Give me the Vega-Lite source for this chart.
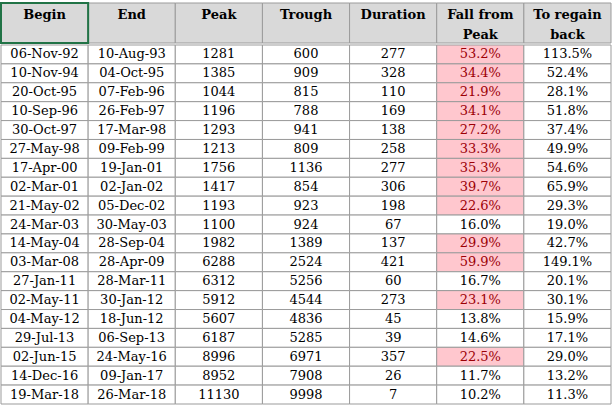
{
  "$schema": "https://vega.github.io/schema/vega-lite/v6.json",
  "background": "white",
  "padding": {"left": 0, "top": 2, "right": 0, "bottom": 0},
  "spacing": 0,
  "config": {"view": {"stroke": null}, "concat": {"spacing": 0}},
  "datasets": {
    "rows": [
      {"Begin": "06-Nov-92", "End": "10-Aug-93", "Peak": 1281, "Trough": 600, "Duration": 277, "Fall": 0.532, "Regain": 1.135},
      {"Begin": "10-Nov-94", "End": "04-Oct-95", "Peak": 1385, "Trough": 909, "Duration": 328, "Fall": 0.344, "Regain": 0.524},
      {"Begin": "20-Oct-95", "End": "07-Feb-96", "Peak": 1044, "Trough": 815, "Duration": 110, "Fall": 0.219, "Regain": 0.281},
      {"Begin": "10-Sep-96", "End": "26-Feb-97", "Peak": 1196, "Trough": 788, "Duration": 169, "Fall": 0.341, "Regain": 0.518},
      {"Begin": "30-Oct-97", "End": "17-Mar-98", "Peak": 1293, "Trough": 941, "Duration": 138, "Fall": 0.272, "Regain": 0.374},
      {"Begin": "27-May-98", "End": "09-Feb-99", "Peak": 1213, "Trough": 809, "Duration": 258, "Fall": 0.333, "Regain": 0.499},
      {"Begin": "17-Apr-00", "End": "19-Jan-01", "Peak": 1756, "Trough": 1136, "Duration": 277, "Fall": 0.353, "Regain": 0.546},
      {"Begin": "02-Mar-01", "End": "02-Jan-02", "Peak": 1417, "Trough": 854, "Duration": 306, "Fall": 0.397, "Regain": 0.659},
      {"Begin": "21-May-02", "End": "05-Dec-02", "Peak": 1193, "Trough": 923, "Duration": 198, "Fall": 0.226, "Regain": 0.293},
      {"Begin": "24-Mar-03", "End": "30-May-03", "Peak": 1100, "Trough": 924, "Duration": 67, "Fall": 0.160, "Regain": 0.190},
      {"Begin": "14-May-04", "End": "28-Sep-04", "Peak": 1982, "Trough": 1389, "Duration": 137, "Fall": 0.299, "Regain": 0.427},
      {"Begin": "03-Mar-08", "End": "28-Apr-09", "Peak": 6288, "Trough": 2524, "Duration": 421, "Fall": 0.599, "Regain": 1.491},
      {"Begin": "27-Jan-11", "End": "28-Mar-11", "Peak": 6312, "Trough": 5256, "Duration": 60, "Fall": 0.167, "Regain": 0.201},
      {"Begin": "02-May-11", "End": "30-Jan-12", "Peak": 5912, "Trough": 4544, "Duration": 273, "Fall": 0.231, "Regain": 0.301},
      {"Begin": "04-May-12", "End": "18-Jun-12", "Peak": 5607, "Trough": 4836, "Duration": 45, "Fall": 0.138, "Regain": 0.159},
      {"Begin": "29-Jul-13", "End": "06-Sep-13", "Peak": 6187, "Trough": 5285, "Duration": 39, "Fall": 0.146, "Regain": 0.171},
      {"Begin": "02-Jun-15", "End": "24-May-16", "Peak": 8996, "Trough": 6971, "Duration": 357, "Fall": 0.225, "Regain": 0.290},
      {"Begin": "14-Dec-16", "End": "09-Jan-17", "Peak": 8952, "Trough": 7908, "Duration": 26, "Fall": 0.117, "Regain": 0.132},
      {"Begin": "19-Mar-18", "End": "26-Mar-18", "Peak": 11130, "Trough": 9998, "Duration": 7, "Fall": 0.102, "Regain": 0.113}
    ],
    "header": [
      {"col": "Begin", "line": 1, "label": "Begin"},
      {"col": "End", "line": 1, "label": "End"},
      {"col": "Peak", "line": 1, "label": "Peak"},
      {"col": "Trough", "line": 1, "label": "Trough"},
      {"col": "Duration", "line": 1, "label": "Duration"},
      {"col": "Fall", "line": 1, "label": "Fall from"},
      {"col": "Fall", "line": 2, "label": "Peak"},
      {"col": "Regain", "line": 1, "label": "To regain"},
      {"col": "Regain", "line": 2, "label": "back"}
    ]
  },
  "vconcat": [
    {
      "width": 610,
      "height": 40,
      "data": {"name": "header"},
      "layer": [
        {
          "transform": [{"filter": "datum.line === 1"}],
          "mark": {"type": "rect", "fill": "#d9d9d9", "stroke": "#9b9b9b", "strokeWidth": 1},
          "encoding": {
            "x": {"field": "col", "type": "nominal", "axis": null, "sort": null,
                  "scale": {"domain": ["Begin", "End", "Peak", "Trough", "Duration", "Fall", "Regain"], "paddingInner": 0, "paddingOuter": 0}}
          }
        },
        {
          "mark": {"type": "text", "font": "DejaVu Serif", "fontSize": 13, "fontWeight": "bold", "color": "#000000", "baseline": "middle", "dy": 2},
          "encoding": {
            "x": {"field": "col", "type": "nominal", "axis": null, "sort": null},
            "y": {"field": "line", "type": "ordinal", "axis": null, "scale": {"domain": [1, 2], "paddingInner": 0, "paddingOuter": 0}},
            "text": {"field": "label"}
          }
        },
        {
          "transform": [{"filter": "datum.col === 'Begin'"}],
          "mark": {"type": "rect", "fill": null, "stroke": "#217346", "strokeWidth": 2},
          "encoding": {
            "x": {"field": "col", "type": "nominal", "axis": null, "sort": null}
          }
        }
      ]
    },
    {
      "width": 610,
      "height": 359,
      "data": {"name": "rows"},
      "encoding": {
        "y": {"field": "Begin", "type": "nominal", "axis": null, "sort": null, "scale": {"paddingInner": 0, "paddingOuter": 0}}
      },
      "layer": [
        {
          "transform": [{"fold": ["Begin", "End", "Peak", "Trough", "Duration", "Fall", "Regain"], "as": ["key", "value"]}],
          "mark": {"type": "rect", "stroke": "#9b9b9b", "strokeWidth": 1},
          "encoding": {
            "x": {"field": "key", "type": "nominal", "axis": null, "sort": null,
                  "scale": {"domain": ["Begin", "End", "Peak", "Trough", "Duration", "Fall", "Regain"], "paddingInner": 0, "paddingOuter": 0}},
            "fill": {"condition": {"test": "datum.key === 'Fall' && datum.Fall > 0.2", "value": "#ffc7ce"}, "value": "#ffffff"}
          }
        },
        {
          "mark": {"type": "text", "font": "DejaVu Serif", "fontSize": 13, "color": "#000000", "baseline": "middle"},
          "encoding": {"x": {"datum": "Begin", "type": "nominal", "axis": null}, "text": {"field": "Begin", "type": "nominal"}}
        },
        {
          "mark": {"type": "text", "font": "DejaVu Serif", "fontSize": 13, "color": "#000000", "baseline": "middle"},
          "encoding": {"x": {"datum": "End", "type": "nominal", "axis": null}, "text": {"field": "End", "type": "nominal"}}
        },
        {
          "mark": {"type": "text", "font": "DejaVu Serif", "fontSize": 13, "color": "#000000", "baseline": "middle"},
          "encoding": {"x": {"datum": "Peak", "type": "nominal", "axis": null}, "text": {"field": "Peak", "type": "nominal"}}
        },
        {
          "mark": {"type": "text", "font": "DejaVu Serif", "fontSize": 13, "color": "#000000", "baseline": "middle"},
          "encoding": {"x": {"datum": "Trough", "type": "nominal", "axis": null}, "text": {"field": "Trough", "type": "nominal"}}
        },
        {
          "mark": {"type": "text", "font": "DejaVu Serif", "fontSize": 13, "color": "#000000", "baseline": "middle"},
          "encoding": {"x": {"datum": "Duration", "type": "nominal", "axis": null}, "text": {"field": "Duration", "type": "nominal"}}
        },
        {
          "mark": {"type": "text", "font": "DejaVu Serif", "fontSize": 13, "baseline": "middle"},
          "encoding": {
            "x": {"datum": "Fall", "type": "nominal", "axis": null},
            "text": {"field": "Fall", "type": "quantitative", "format": ".1%"},
            "color": {"condition": {"test": "datum.Fall > 0.2", "value": "#9c0006"}, "value": "#000000"}
          }
        },
        {
          "mark": {"type": "text", "font": "DejaVu Serif", "fontSize": 13, "color": "#000000", "baseline": "middle"},
          "encoding": {"x": {"datum": "Regain", "type": "nominal", "axis": null}, "text": {"field": "Regain", "type": "quantitative", "format": ".1%"}}
        }
      ]
    }
  ]
}
